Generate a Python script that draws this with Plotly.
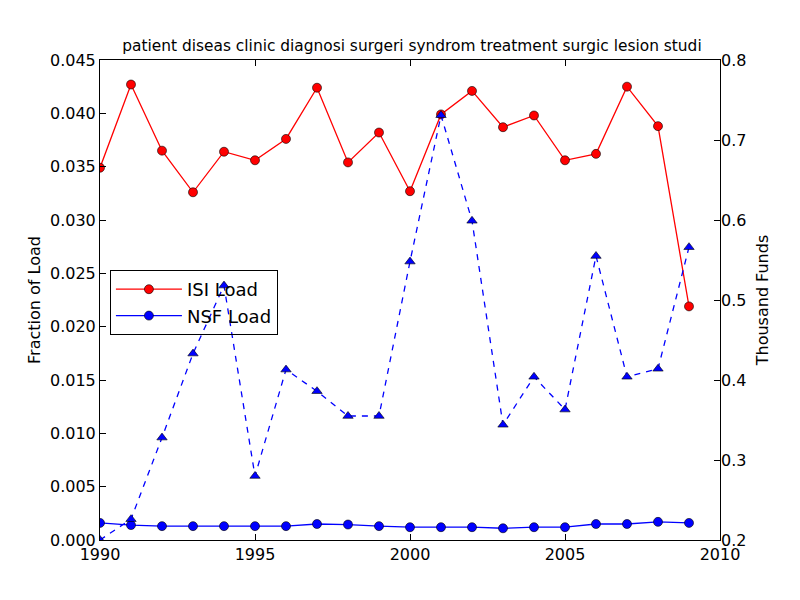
import plotly.graph_objects as go

years = list(range(1990, 2010))
isi_load = [0.0349, 0.0427, 0.0365, 0.0326, 0.0364, 0.0356, 0.0376, 0.0424, 0.0354, 0.0382,
            0.0327, 0.0399, 0.0421, 0.0387, 0.0398, 0.0356, 0.0362, 0.0425, 0.0388, 0.0219]
nsf_load = [0.0016, 0.0014, 0.0013, 0.0013, 0.0013, 0.0013, 0.0013, 0.0015, 0.00145, 0.0013,
            0.0012, 0.0012, 0.0012, 0.0011, 0.0012, 0.0012, 0.0015, 0.0015, 0.0017, 0.0016]
funds = [0.200, 0.226, 0.328, 0.433, 0.518, 0.280, 0.413, 0.386, 0.355, 0.355,
         0.548, 0.731, 0.599, 0.344, 0.404, 0.363, 0.555, 0.404, 0.414, 0.566]

title = "patient diseas clinic diagnosi surgeri syndrom treatment surgic lesion studi"
font = "DejaVu Sans"

fig = go.Figure()
fig.add_trace(go.Scatter(x=years, y=isi_load, mode="lines+markers", name="ISI Load",
                         line=dict(color="#ff0000", width=1.3),
                         marker=dict(symbol="circle", size=9, color="#ff0000",
                                     line=dict(color="#000000", width=0.6))))
fig.add_trace(go.Scatter(x=years, y=nsf_load, mode="lines+markers", name="NSF Load",
                         line=dict(color="#0000ff", width=1.3),
                         marker=dict(symbol="circle", size=9, color="#0000ff",
                                     line=dict(color="#000000", width=0.6))))
fig.add_trace(go.Scatter(x=years, y=funds, mode="lines+markers", name="Funds", yaxis="y2",
                         showlegend=False,
                         line=dict(color="#0000ff", width=1.3, dash="6px,6px"),
                         marker=dict(symbol="triangle-up", size=9, color="#0000ff",
                                     line=dict(color="#000000", width=0.6))))

fig.update_layout(
    width=800, height=600,
    margin=dict(l=92, r=88, t=52, b=68),
    paper_bgcolor="white", plot_bgcolor="white",
    font=dict(family=font, size=16, color="black"),
    title=dict(text=title, x=0.505, xanchor="center", y=0.937, yanchor="middle",
               font=dict(size=15.4)),
    xaxis=dict(range=[1990, 2010], tickvals=[1990, 1995, 2000, 2005, 2010],
               showgrid=False, zeroline=False, showline=True, linecolor="black", linewidth=1,
               mirror="ticks", ticks="inside", ticklen=6, tickcolor="black",
               tickfont=dict(size=16)),
    yaxis=dict(range=[0, 0.045], tickvals=[i * 0.005 for i in range(10)], tickformat=".3f",
               showgrid=False, zeroline=False, showline=True, linecolor="black", linewidth=1,
               mirror=True, ticks="inside", ticklen=6, tickcolor="black",
               title=dict(text="Fraction of Load", font=dict(size=16), standoff=5),
               tickfont=dict(size=16)),
    yaxis2=dict(range=[0.2, 0.8], tickvals=[0.2, 0.3, 0.4, 0.5, 0.6, 0.7, 0.8], tickformat=".1f",
                overlaying="y", side="right", showgrid=False, zeroline=False,
                ticks="inside", ticklen=6, tickcolor="black",
                title=dict(text="Thousand Funds", font=dict(size=16), standoff=11),
                tickfont=dict(size=16)),
    legend=dict(x=0.016, y=0.5625, xanchor="left", yanchor="top",
                bordercolor="black", borderwidth=1, bgcolor="rgba(255,255,255,0)",
                font=dict(size=18), itemwidth=66, tracegroupgap=0),
)

fig.write_html("out.html")
